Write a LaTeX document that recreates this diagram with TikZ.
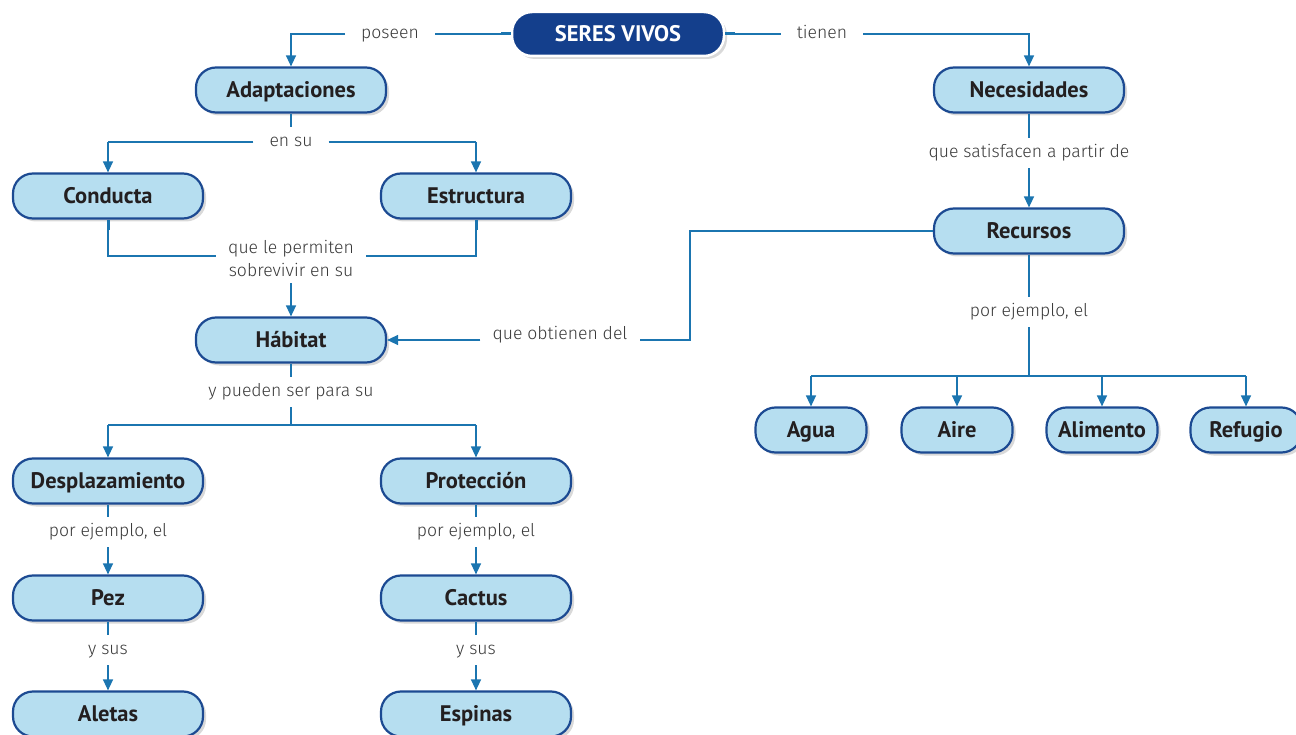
\documentclass[tikz,border=0pt]{standalone}
\usepackage{fontspec}
\setmainfont{PT Sans}
\IfFontExistsTF{Fira Sans Light}
  {\newfontfamily\phrasefont{Fira Sans Light}\newcommand\phrasesize{17.6}}
  {\newfontfamily\phrasefont{PT Sans}\newcommand\phrasesize{18.5}}
\usetikzlibrary{shadows,arrows.meta}

\definecolor{linkblue}{HTML}{1B75B0}
\definecolor{boxfill}{HTML}{B6DEF0}
\definecolor{boxedge}{HTML}{1C4A92}
\definecolor{headfill}{HTML}{143F8C}
\definecolor{labelgray}{HTML}{3A3A3A}
\definecolor{nodetext}{HTML}{231F20}

\begin{document}
\begin{tikzpicture}[x=1pt,y=-1pt,
  concept/.style={draw=boxedge, line width=2.2pt, fill=boxfill, rounded corners=20pt,
    minimum width=190pt, minimum height=45pt, inner sep=0pt, text=nodetext,
    font=\bfseries\fontsize{22.5}{26}\selectfont, text height=15.5pt, text depth=0pt,
    drop shadow={opacity=0.3, shadow xshift=3pt, shadow yshift=-3pt}},
  small/.style={concept, minimum width=111pt},
  head/.style={concept, draw=white, line width=2.5pt, fill=headfill, text=white,
    minimum width=212pt, minimum height=44pt},
  lblbase/.style={text=labelgray, inner xsep=16pt, inner ysep=7pt,
    font=\phrasefont\fontsize{\phrasesize}{23}\selectfont, align=center},
  lbl/.style={lblbase, text height=13pt, text depth=3.5pt},
  link/.style={draw=linkblue, line width=1.4pt},
  arrow/.style={link, -{Triangle[length=11pt,width=10pt]}},
  stub/.style={draw=linkblue, line width=3pt}
]
\useasboundingbox (0,0) rectangle (1296,735);

% concept boxes
\node[head]    (sv)    at (618,34)  {SERES VIVOS};
\node[concept] (adapt) at (291,90)  {Adaptaciones};
\node[concept] (nec)   at (1029,90) {Necesidades};
\node[concept] (cond)  at (108,196) {Conducta};
\node[concept] (estr)  at (476,196) {Estructura};
\node[concept] (rec)   at (1029,231) {Recursos};
\node[concept] (hab)   at (291,340) {Hábitat};
\node[small]   (agua)  at (811,430) {Agua};
\node[small]   (aire)  at (957,430) {Aire};
\node[small]   (alim)  at (1102,430) {Alimento};
\node[small]   (ref)   at (1246,430) {Refugio};
\node[concept] (desp)  at (108,481) {Desplazamiento};
\node[concept] (prot)  at (476,481) {Protección};
\node[concept] (pez)   at (108,598) {Pez};
\node[concept] (cact)  at (476,598) {Cactus};
\node[concept] (alet)  at (108,714) {Aletas};
\node[concept] (esp)   at (476,714) {Espinas};

% linking phrases
\node[lbl] (lposeen) at (390,34)  {poseen};
\node[lbl] (ltienen) at (822,34)  {tienen};
\node[lbl] (lensu)   at (291,142) {en su};
\node[lblbase, inner xsep=12pt] (lperm) at (291,258) {que le permiten\\sobrevivir en su};
\node[lbl] (lpueden) at (291,392) {y pueden ser para su};
\node[lbl] (lej1)    at (108,532) {por ejemplo, el};
\node[lbl] (lej2)    at (476,532) {por ejemplo, el};
\node[lbl] (lsus1)   at (108,650) {y sus};
\node[lbl] (lsus2)   at (476,650) {y sus};
\node[lbl] (lsat)    at (1029,153) {que satisfacen a partir de};
\node[lbl] (lej3)    at (1029,312) {por ejemplo, el};
\node[lbl, inner xsep=12pt] (lobt) at (560,335) {que obtienen del};

% junction points
\coordinate (jpos) at (291,34);
\coordinate (jtie) at (1029,34);
\coordinate (jcond) at (108,142);
\coordinate (jestr) at (476,142);
\coordinate (bcond) at (108,256);
\coordinate (bestr) at (476,256);
\coordinate (jdesp) at (108,425);
\coordinate (jprot) at (476,425);
\coordinate (jhab) at (291,425);
\coordinate (rleft) at (690,231);
\coordinate (rdown) at (690,340);
\coordinate (jrec) at (1029,376);
\coordinate (jagua) at (811,376);
\coordinate (jref) at (1246,376);

% SERES VIVOS branches
\draw[link] (sv.west) -- (lposeen.east);
\draw[arrow] (lposeen.west) -- (jpos) -- (adapt.north);
\draw[link] (sv.east) -- (ltienen.west);
\draw[arrow] (ltienen.east) -- (jtie) -- (nec.north);
\draw[stub] (sv.west) -- ++(-10,0);
\draw[stub] (sv.east) -- ++(10,0);

% Adaptaciones -> Conducta / Estructura
\draw[link] (adapt.south) -- (lensu.north);
\draw[link] (lensu.west) -- (jcond);
\draw[link] (lensu.east) -- (jestr);
\draw[arrow] (jcond) -- (cond.north);
\draw[arrow] (jestr) -- (estr.north);

% Conducta / Estructura -> Hábitat
\draw[link] (cond.south) -- (bcond) -- (lperm.west |- bcond);
\draw[link] (estr.south) -- (bestr) -- (lperm.east |- bestr);
\draw[arrow] (lperm.south) -- (hab.north);
\draw[stub] (cond.south) -- ++(0,10);
\draw[stub] (estr.south) -- ++(0,10);

% Hábitat -> Desplazamiento / Protección
\draw[link] (hab.south) -- (lpueden.north);
\draw[link] (lpueden.south) -- (jhab);
\draw[link] (jdesp) -- (jprot);
\draw[arrow] (jdesp) -- (desp.north);
\draw[arrow] (jprot) -- (prot.north);

% examples on the left
\draw[link] (desp.south) -- (lej1.north);
\draw[arrow] (lej1.south) -- (pez.north);
\draw[link] (prot.south) -- (lej2.north);
\draw[arrow] (lej2.south) -- (cact.north);
\draw[link] (pez.south) -- (lsus1.north);
\draw[arrow] (lsus1.south) -- (alet.north);
\draw[link] (cact.south) -- (lsus2.north);
\draw[arrow] (lsus2.south) -- (esp.north);

% Necesidades -> Recursos
\draw[link] (nec.south) -- (lsat.north);
\draw[arrow] (lsat.south) -- (rec.north);

% Recursos -> Hábitat
\draw[link] (rec.west) -- (rleft) -- (rdown) -- (lobt.east |- rdown);
\draw[arrow] (lobt.west |- rdown) -- (hab.east);

% Recursos -> examples
\draw[link, line width=2.4pt] (rec.south) -- (lej3.north);
\draw[link, line width=2.4pt] (lej3.south) -- (jrec);
\draw[link] (jagua) -- (jref);
\draw[arrow] (jagua) -- (agua.north);
\draw[arrow] (aire.north |- jrec) -- (aire.north);
\draw[arrow] (alim.north |- jrec) -- (alim.north);
\draw[arrow] (jref) -- (ref.north);
\end{tikzpicture}
\end{document}
